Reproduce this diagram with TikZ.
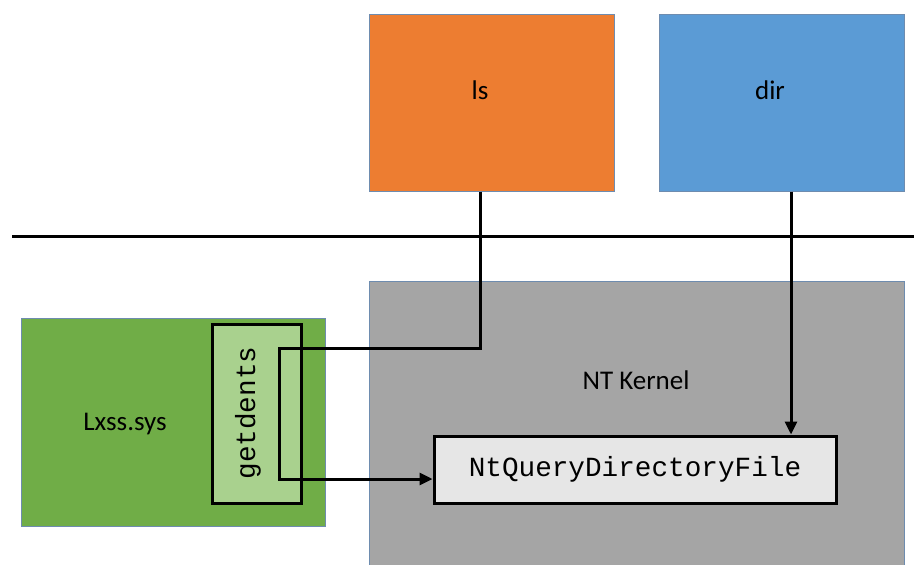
\documentclass[tikz,border=0pt]{standalone}
\usepackage{fontspec}
\setmainfont{Carlito}
\newfontfamily\codefont{Liberation Mono}
\usetikzlibrary{arrows.meta}
\definecolor{lsorange}{HTML}{ED7D31}
\definecolor{dirblue}{HTML}{5B9BD5}
\definecolor{ntgray}{HTML}{A5A5A5}
\definecolor{lxgreen}{HTML}{70AD47}
\definecolor{gdgreen}{HTML}{A9D18E}
\definecolor{ntqfill}{HTML}{E6E6E6}
\definecolor{thinborder}{RGB}{110,140,175}
\tikzset{
  bigbox/.style={draw=thinborder, line width=1pt, inner sep=0pt, font=\fontsize{27}{32}\selectfont},
  funcbox/.style={draw=black, line width=3pt, inner sep=0pt, font=\codefont\fontsize{27.7}{32}\selectfont},
  lbl/.style={font=\fontsize{27}{32}\selectfont, inner sep=0pt},
  connline/.style={draw=black, line width=3pt},
  arrowend/.style={-{Triangle[length=13pt,width=12pt]}}
}
\begin{document}
\begin{tikzpicture}[x=1pt,y=-1pt]
\useasboundingbox (0,0) rectangle (914,565);
\fill[white] (0,0) rectangle (914,565);
\node[bigbox, fill=lsorange, minimum width=245pt, minimum height=177pt] (ls) at (491.5,102.5) {};
\node[lbl] (lst) at (480,90) {ls};
\node[bigbox, fill=dirblue, minimum width=245pt, minimum height=177pt] (dir) at (781.5,102.5) {};
\node[lbl] (dirt) at (770,90) {dir};
\coordinate (hl) at (12,236);
\coordinate (hr) at (914,236);
\draw[connline] (hl) -- (hr);
\begin{scope}
\clip (0,0) rectangle (914,565);
\node[bigbox, fill=ntgray, minimum width=535pt, minimum height=300pt] (nt) at (636.5,431) {};
\end{scope}
\node[lbl] (ntt) at (636,380) {NT Kernel};
\node[bigbox, fill=lxgreen, minimum width=304pt, minimum height=208pt] (lx) at (173,422) {};
\node[lbl] (lxt) at (125,424) {Lxss.sys};
\node[funcbox, fill=gdgreen, minimum width=89pt, minimum height=179pt] (gd) at (256.5,413.5) {};
\node[rotate=90, inner sep=0pt, font=\codefont\fontsize{27.7}{32}\selectfont] (gdt) at (248,413) {getdents};
\node[funcbox, fill=ntqfill, minimum width=402pt, minimum height=67pt] (ntq) at (635,469.5) {NtQueryDirectoryFile};
\coordinate (lsx) at (480,0);
\coordinate (dirx) at (791,0);
\coordinate (b1) at (279,348);
\coordinate (b2) at (279,479);
\draw[connline, arrowend] (lsx |- ls.south) |- (b1) -- (b2) -- (b2 -| ntq.west);
\draw[connline, arrowend] (dirx |- dir.south) -- (dirx |- ntq.north);
\end{tikzpicture}
\end{document}
